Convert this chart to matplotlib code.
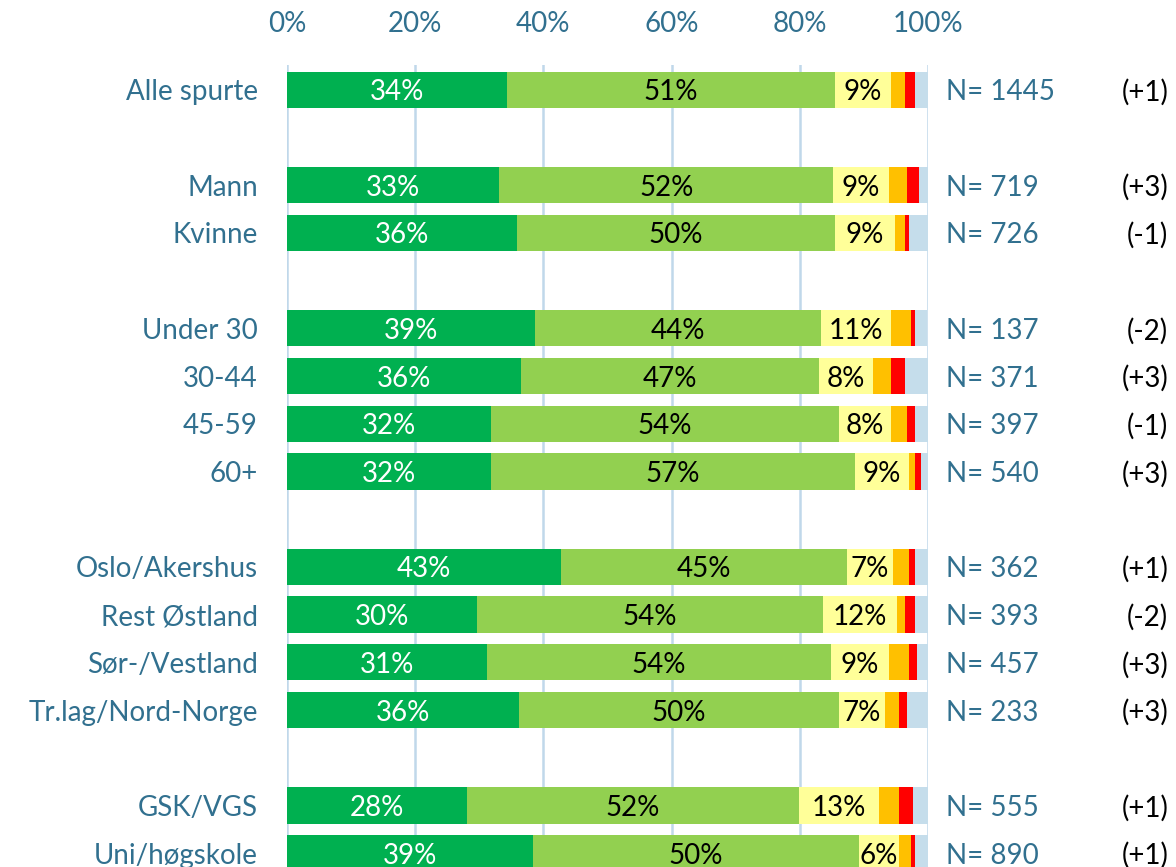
import numpy as np
import matplotlib.pyplot as plt

plt.rcParams['font.family'] = ['Lato', 'DejaVu Sans']

# kategorier (None = tom rad mellom gruppene)
labels = ['Alle spurte', None, 'Mann', 'Kvinne', None,
          'Under 30', '30-44', '45-59', '60+', None,
          'Oslo/Akershus', 'Rest Østland', 'Sør-/Vestland', 'Tr.lag/Nord-Norge', None,
          'GSK/VGS', 'Uni/høgskole']

s1 = [34.3, 33.1, 35.9, 38.7, 36.5, 31.8, 31.8, 42.7, 29.6, 31.2, 36.2, 28.1, 38.4]
s2 = [51.2, 52.1, 49.6, 44.6, 46.5, 54.3, 56.8, 44.7, 54.0, 53.7, 49.9, 51.8, 50.8]
s3 = [8.7, 8.7, 9.4, 10.9, 8.4, 8.1, 8.4, 7.1, 11.6, 9.0, 7.2, 12.5, 6.3]
s4 = [2.2, 2.8, 1.5, 3.1, 2.8, 2.5, 1.0, 2.5, 1.2, 3.1, 2.2, 3.1, 1.8]
s5 = [1.6, 1.9, 0.6, 0.6, 2.2, 1.3, 0.9, 1.0, 1.6, 1.3, 1.2, 2.2, 0.7]
s6 = [2.0, 1.4, 3.0, 2.0, 3.6, 2.0, 1.1, 2.0, 2.0, 1.7, 3.3, 2.3, 2.0]

lab1 = ['34%', '33%', '36%', '39%', '36%', '32%', '32%', '43%', '30%', '31%', '36%', '28%', '39%']
lab2 = ['51%', '52%', '50%', '44%', '47%', '54%', '57%', '45%', '54%', '54%', '50%', '52%', '50%']
lab3 = ['9%', '9%', '9%', '11%', '8%', '8%', '9%', '7%', '12%', '9%', '7%', '13%', '6%']
ns = [1445, 719, 726, 137, 371, 397, 540, 362, 393, 457, 233, 555, 890]
endr = ['(+1)', '(+3)', '(-1)', '(-2)', '(+3)', '(-1)', '(+3)', '(+1)', '(-2)', '(+3)', '(+3)', '(+1)', '(+1)']

farger = ['#00B050', '#92D050', '#FFFF99', '#FFC000', '#FF0000', '#C5DDEB']
blaa = '#31708F'
fs = 20

pos = [i for i, l in enumerate(labels) if l is not None]
navn = [l for l in labels if l is not None]

fig = plt.figure(figsize=(11.76, 8.67), dpi=100)
ax = fig.add_axes([287/1176, 0.0, 641/1176, 1 - 65/867])

data = [s1, s2, s3, s4, s5, s6]
left = np.zeros(len(pos))
for k, s in enumerate(data):
    s = np.array(s)
    ax.barh(pos, s, left=left, height=0.76, color=farger[k], zorder=2)
    if k < 3:
        tekst = [lab1, lab2, lab3][k]
        for i, p in enumerate(pos):
            ax.text(left[i] + s[i] / 2, p, tekst[i], ha='center', va='center_baseline',
                    fontsize=fs, color='white' if k == 0 else 'black', zorder=3)
    left = left + s

for x in range(0, 101, 20):
    ax.axvline(x, color='#C0D8EA', lw=1.8, zorder=1)

ax.set_xlim(0, 100)
ax.set_ylim(16.29, -0.52)
ax.set_yticks(pos)
ax.set_yticklabels(navn, fontsize=fs, color=blaa, va='center_baseline')
ax.tick_params(axis='y', length=0, pad=21)
ax.xaxis.tick_top()
ax.set_xticks(range(0, 101, 20))
ax.set_xticklabels([f'{x}%' for x in range(0, 101, 20)], fontsize=fs, color=blaa)
ax.tick_params(axis='x', length=0, pad=20)
for sp in ax.spines.values():
    sp.set_visible(False)

for i, p in enumerate(pos):
    ax.text(102.8, p, f'N= {ns[i]}', ha='left', va='center_baseline', fontsize=fs, color=blaa)
    ax.text(137.5, p, endr[i], ha='right', va='center_baseline', fontsize=fs, color='black')

fig.savefig('out.png', dpi=100)
